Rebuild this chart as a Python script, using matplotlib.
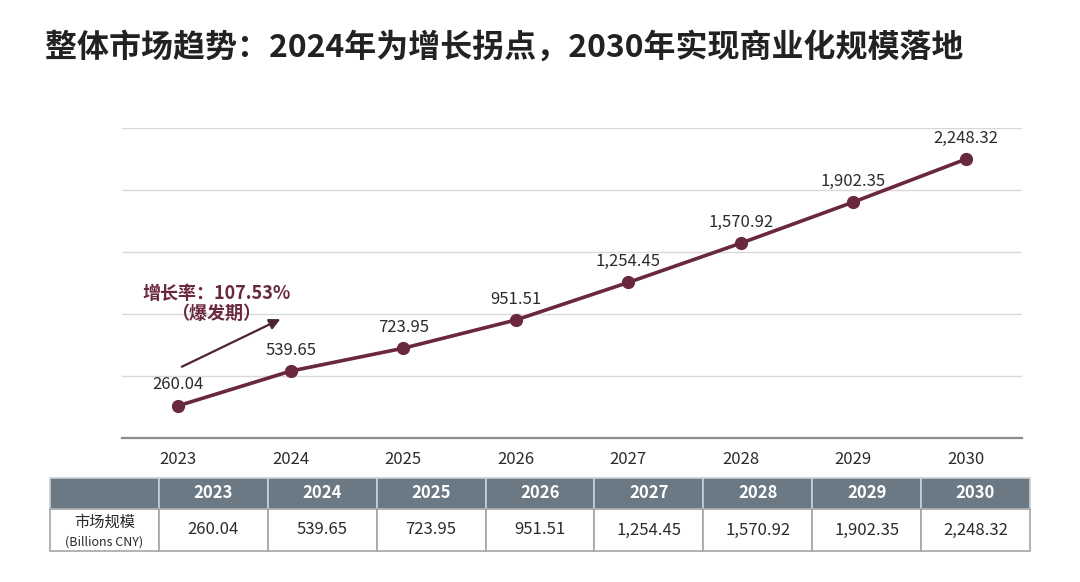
import matplotlib
matplotlib.use('Agg')
from matplotlib import pyplot as plt
import numpy as np

plt.rcParams['font.family'] = ['Noto Sans CJK SC', 'DejaVu Sans']

# data
years = ['2023', '2024', '2025', '2026', '2027', '2028', '2029', '2030']
market_size = [260.04, 539.65, 723.95, 951.51, 1254.45, 1570.92, 1902.35, 2248.32]
title = '整体市场趋势：2024年为增长拐点，2030年实现商业化规模落地'
row_label = '市场规模'
row_unit = '(Billions CNY)'

line_color = '#6a283c'
header_color = '#6b7985'
text_color = '#2b2b2b'

growth = (market_size[1] - market_size[0]) / market_size[0] * 100

fig = plt.figure(figsize=(10.8, 5.82), dpi=100)
fig.text(45 / 1080, 1 - 48 / 582, title, fontsize=23, fontweight='bold',
         color='#222222', va='center', ha='left')

# line chart
ax = fig.add_axes([122 / 1080, 1 - 438 / 582, 900 / 1080, 310 / 582])
x = np.arange(len(years))
ax.plot(x, market_size, color=line_color, lw=2.6, marker='o', ms=8.5, zorder=3)
for xi, v in zip(x, market_size):
    ax.annotate(f'{v:,.2f}', (xi, v), xytext=(0, 15), textcoords='offset points',
                ha='center', va='center', fontsize=12, color=text_color)

ax.set_xlim(-0.5, len(years) - 0.5)
ax.set_ylim(0, 2500)
ax.set_yticks(np.arange(0, 2501, 500))
ax.set_yticklabels([])
ax.set_xticks(x)
ax.set_xticklabels(years, fontsize=12, color=text_color)
ax.tick_params(axis='both', length=0)
ax.tick_params(axis='x', pad=9)
ax.grid(axis='y', color='#d9d9d9', lw=1)
ax.set_axisbelow(True)
for s in ['top', 'right', 'left']:
    ax.spines[s].set_visible(False)
ax.spines['bottom'].set_color('#8c8c8c')
ax.spines['bottom'].set_linewidth(1.6)

# growth note
ax.annotate('', xy=(0.93, 968), xytext=(0.01, 565),
            arrowprops=dict(arrowstyle='-|>', color='#4a2530', lw=1.6,
                            mutation_scale=16))
ax.text(0.34, 1169, f'增长率：{growth:.2f}%', ha='center', va='center',
        fontsize=13, fontweight='bold', color=line_color)
ax.text(0.34, 1005, '（爆发期）', ha='center', va='center',
        fontsize=13, fontweight='bold', color=line_color)

# table
tax = fig.add_axes([50 / 1080, 1 - 551 / 582, 980 / 1080, 73 / 582])
tax.axis('off')
cells = [[''] + years, [''] + [f'{v:,.2f}' for v in market_size]]
tbl = tax.table(cellText=cells, cellLoc='center', bbox=[0, 0, 1, 1])
tbl.auto_set_font_size(False)
for (r, c), cell in tbl.get_celld().items():
    cell.set_linewidth(1.2)
    if r == 0:
        cell.set_height(31)
        cell.set_facecolor(header_color)
        cell.set_edgecolor('#c9d0d6')
        cell.get_text().set_color('white')
        cell.get_text().set_fontweight('bold')
        cell.get_text().set_fontsize(12)
    else:
        cell.set_height(42)
        cell.set_facecolor('white')
        cell.set_edgecolor('#a6a6a6')
        cell.get_text().set_color(text_color)
        cell.get_text().set_fontsize(12)

ncol = len(years) + 1
tax.text(0.5 / ncol, 42 / 73 * 0.68, row_label, transform=tax.transAxes,
         ha='center', va='center', fontsize=11, color=text_color)
tax.text(0.5 / ncol, 42 / 73 * 0.22, row_unit, transform=tax.transAxes,
         ha='center', va='center', fontsize=9, color=text_color)

fig.savefig('out.png', dpi=100, facecolor='white')
